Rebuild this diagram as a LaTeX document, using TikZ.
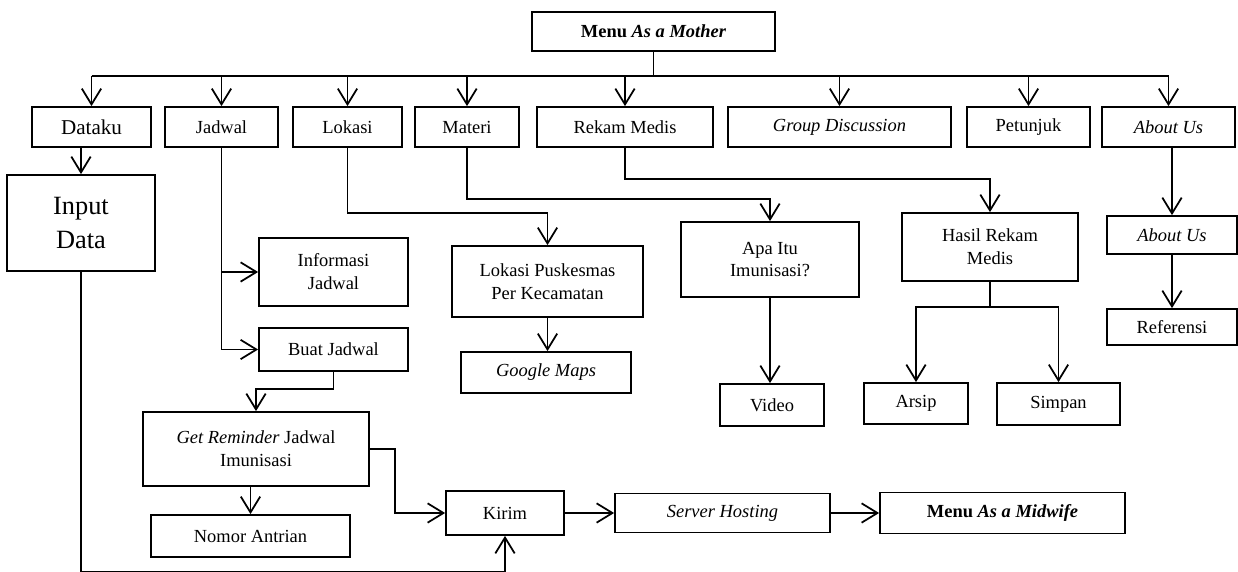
\documentclass[tikz,border=0pt]{standalone}
\usepackage{fontspec}
\setmainfont{Liberation Serif}
\usetikzlibrary{arrows.meta}

\begin{document}
\begin{tikzpicture}[
        kt/.style={rectangle, draw, line width=1pt, inner sep=1pt, align=center, font=\fontsize{10.5}{13}\selectfont},
        ln/.style={line width=1pt},
        ar/.style={line width=1pt, -{Straight Barb[length=9pt, width=11pt]}},
        ]
      \useasboundingbox (0,0) rectangle (24.76,-11.44);

      \node[kt, minimum width=48.6mm, minimum height=7.8mm] (mn) at (13.07, -0.63) {\textbf{Menu \textit{As a Mother}}};
      \coordinate (bus) at (0, -1.52);

      \node[kt, minimum width=23.8mm, minimum height=8mm] (dk) at (1.83, -2.54) {\fontsize{12}{14}\selectfont Dataku};
      \node[kt, minimum width=22.6mm, minimum height=8mm] (jd) at (4.43, -2.54) {Jadwal};
      \node[kt, minimum width=21.8mm, minimum height=8mm] (lk) at (6.95, -2.54) {Lokasi};
      \node[kt, minimum width=20.8mm, minimum height=8mm] (mt) at (9.34, -2.54) {Materi};
      \node[kt, minimum width=35.2mm, minimum height=8mm] (rm) at (12.50, -2.54) {Rekam Medis};
      \node[kt, minimum width=44.6mm, minimum height=8mm] (gd) at (16.79, -2.54) {\textit{Group Discussion}};
      \node[kt, minimum width=24.6mm, minimum height=8mm] (pt) at (20.57, -2.54) {Petunjuk};
      \node[kt, minimum width=26.6mm, minimum height=8mm] (ab) at (23.37, -2.54) {\textit{About Us}};

      \draw[ln] (mn.south) -- (mn.south |- bus);
      \draw[ln] (dk.north |- bus) -- (ab.north |- bus);
      \draw[ar] (dk.north |- bus) -- (dk.north);
      \draw[ar] (jd.north |- bus) -- (jd.north);
      \draw[ar] (lk.north |- bus) -- (lk.north);
      \draw[ar] (mt.north |- bus) -- (mt.north);
      \draw[ar] (rm.north |- bus) -- (rm.north);
      \draw[ar] (gd.north |- bus) -- (gd.north);
      \draw[ar] (pt.north |- bus) -- (pt.north);
      \draw[ar] (ab.north |- bus) -- (ab.north);

      \node[kt, minimum width=29.6mm, minimum height=19.2mm, font=\fontsize{15}{19}\selectfont] (id) at (1.62, -4.46) {Input\\Data};
      \node[kt, minimum width=29.8mm, minimum height=13.6mm] (ij) at (6.67, -5.44) {Informasi\\Jadwal};
      \node[kt, minimum width=29.8mm, minimum height=8.6mm] (bj) at (6.67, -6.99) {Buat Jadwal};
      \node[kt, minimum width=38.2mm, minimum height=14.2mm] (lp) at (10.95, -5.63) {Lokasi Puskesmas\\Per Kecamatan};
      \node[kt, minimum width=34mm, minimum height=8.2mm] (gm) at (10.92, -7.45) {\textit{Google Maps}};
      \node[kt, minimum width=35.6mm, minimum height=15mm] (ai) at (15.40, -5.19) {Apa Itu\\Imunisasi?};
      \node[kt, minimum width=20.8mm, minimum height=8.4mm] (vd) at (15.44, -8.10) {Video};
      \node[kt, minimum width=35.2mm, minimum height=13.6mm] (hr) at (19.80, -4.94) {Hasil Rekam\\Medis};
      \node[kt, minimum width=20.8mm, minimum height=8.2mm] (as) at (18.32, -8.07) {Arsip};
      \node[kt, minimum width=24.6mm, minimum height=8.4mm] (sp) at (21.17, -8.08) {Simpan};
      \node[kt, minimum width=26mm, minimum height=7.6mm] (ab2) at (23.44, -4.70) {\textit{About Us}};
      \node[kt, minimum width=26mm, minimum height=7.2mm] (rf) at (23.44, -6.54) {Referensi};

      \draw[ar] (id.north |- dk.south) -- (id.north);
      \draw[ar] (jd.south) |- (ij.west);
      \draw[ar] (jd.south) |- (bj.west);
      \draw[ar] (lk.south) -- ++(0, -1.3) -| (lp.north);
      \draw[ar] (lp.south) -- (lp.south |- gm.north);
      \draw[ar] (mt.south) -- ++(0, -1.02) -| (ai.north);
      \draw[ar] (ai.south) -- (ai.south |- vd.north);
      \draw[ar] (rm.south) -- ++(0, -0.62) -| (hr.north);
      \draw[ln] (hr.south) -- ++(0, -0.5) coordinate (hc);
      \draw[ar] (hc) -| (as.north);
      \draw[ar] (hc) -| (sp.north);
      \draw[ar] (ab2.north |- ab.south) -- (ab2.north);
      \draw[ar] (ab2.south) -- (rf.north);

      \node[kt, minimum width=45.2mm, minimum height=14.8mm] (gr) at (5.12, -8.98) {\textit{Get Reminder} Jadwal\\Imunisasi};
      \node[kt, minimum width=39.8mm, minimum height=8.4mm] (na) at (5.01, -10.72) {Nomor Antrian};
      \node[kt, minimum width=23.6mm, minimum height=8.8mm] (kr) at (10.10, -10.26) {Kirim};
      \node[kt, minimum width=43mm, minimum height=7.8mm] (sh) at (14.45, -10.26) {\textit{Server Hosting}};
      \node[kt, minimum width=49mm, minimum height=8.2mm] (mw) at (20.05, -10.26) {\textbf{Menu \textit{As a Midwife}}};

      \draw[ar] (bj.south) -- ++(0, -0.34) -| (gr.north);
      \draw[ar] (na.north |- gr.south) -- (na.north);
      \draw[ar] (gr.east) -- ++(0.5, 0) |- (kr.west);
      \draw[ar] (id.south) -- ++(0, -6) -| (kr.south);
      \draw[ar] (kr.east) -- (sh.west);
      \draw[ar] (sh.east) -- (mw.west);
    \end{tikzpicture}
\end{document}
